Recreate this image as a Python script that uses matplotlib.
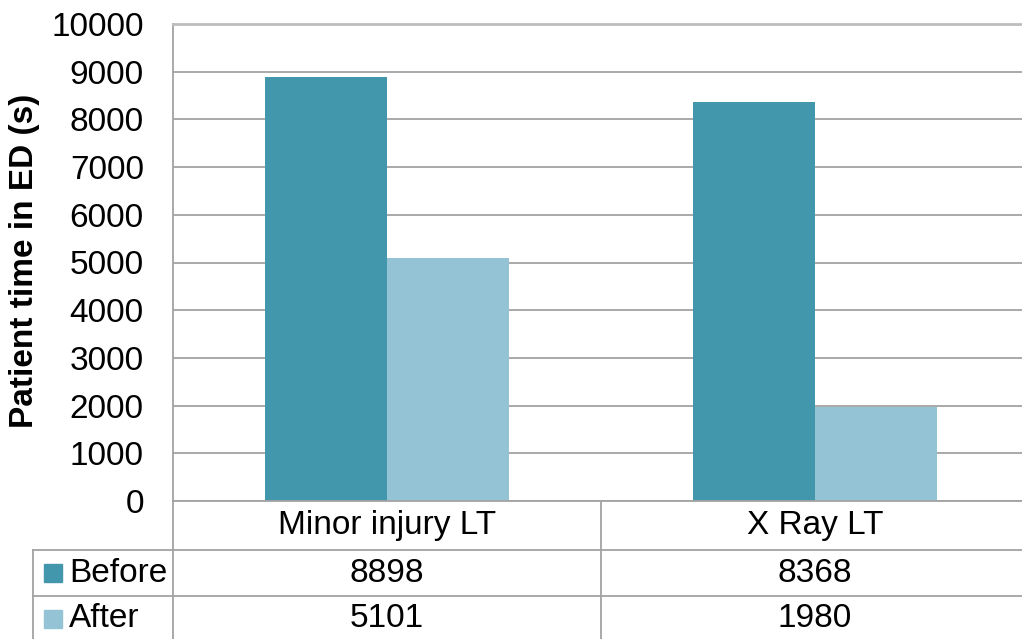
import matplotlib.pyplot as plt
from matplotlib.patches import Rectangle

plt.rcParams["font.family"] = ["Liberation Sans", "DejaVu Sans"]

# Emergency department times before/after, per pathway
categories = ["Minor injury LT", "X Ray LT"]
series_names = ["Before", "After"]
before = [8898, 8368]
after = [5101, 1980]
colors = ["#4397AD", "#93C3D4"]
yticks = list(range(0, 10001, 1000))

grid_c = "#A3A3A3"

fig = plt.figure(figsize=(10.22, 6.39), dpi=100)
W, H = 1022, 639
ax = fig.add_axes([173 / W, (H - 501) / H, (1029 - 173) / W, (501 - 24) / H])

bw = 0.285
xs = list(range(len(categories)))
ax.bar([x - bw / 2 for x in xs], before, width=bw, color=colors[0], zorder=2)
ax.bar([x + bw / 2 for x in xs], after, width=bw, color=colors[1], zorder=2)

ax.set_xlim(-0.5, len(categories) - 0.5)
ax.set_ylim(0, 10000)
ax.set_yticks(yticks)
ax.set_yticklabels([str(v) for v in yticks], fontsize=24)
ax.set_xticks([])
ax.tick_params(axis="y", length=0, pad=21)
ax.yaxis.grid(True, color=grid_c, linewidth=1.3, zorder=0)
ax.set_axisbelow(True)
for side in ["left", "bottom", "top", "right"]:
    ax.spines[side].set_color(grid_c)
    ax.spines[side].set_linewidth(1.3)
ax.spines["top"].set_color("#BDBDBD")
ax.spines["top"].set_linewidth(2)

fig.text(25 / W, 1 - 261 / H, "Patient time in ED (s)", rotation=90,
         ha="center", va="center", fontsize=24, fontweight="bold")

# data table under the plot: x in category units, y in axes fraction
tr = ax.get_xaxis_transform()
px = 1.0 / 477
row_edges = [0, -49 * px, -95 * px, -140 * px]
left_edge = -0.5 - 140 / 428
right_edge = len(categories) - 0.5 + 0.1

line_kw = dict(color=grid_c, linewidth=1.3, transform=tr, clip_on=False)
ax.plot([-0.5, -0.5], [0, row_edges[-1]], **line_kw)
for k in range(1, len(categories)):
    ax.plot([k - 0.5, k - 0.5], [0, row_edges[-1]], **line_kw)
ax.plot([left_edge, left_edge], [row_edges[1], row_edges[-1]], **line_kw)
for y in row_edges[1:3]:
    ax.plot([left_edge, right_edge], [y, y], **line_kw)

for x, cat in zip(xs, categories):
    ax.text(x, (row_edges[0] + row_edges[1]) / 2, cat, transform=tr,
            ha="center", va="center", fontsize=24, clip_on=False)

rows = [before, after]
for r, (name, vals, col) in enumerate(zip(series_names, rows, colors)):
    yc = (row_edges[r + 1] + row_edges[r + 2]) / 2
    ax.add_patch(Rectangle((-0.5 - 129 / 428, yc - 9 * px), 18 / 428, 18 * px,
                           color=col, transform=tr, clip_on=False))
    ax.text(-0.5 - 104 / 428, yc, name, transform=tr, ha="left", va="center",
            fontsize=24, clip_on=False)
    for x, v in zip(xs, vals):
        ax.text(x, yc, str(v), transform=tr, ha="center", va="center",
                fontsize=24, clip_on=False)

fig.savefig("out.png", dpi=100)
